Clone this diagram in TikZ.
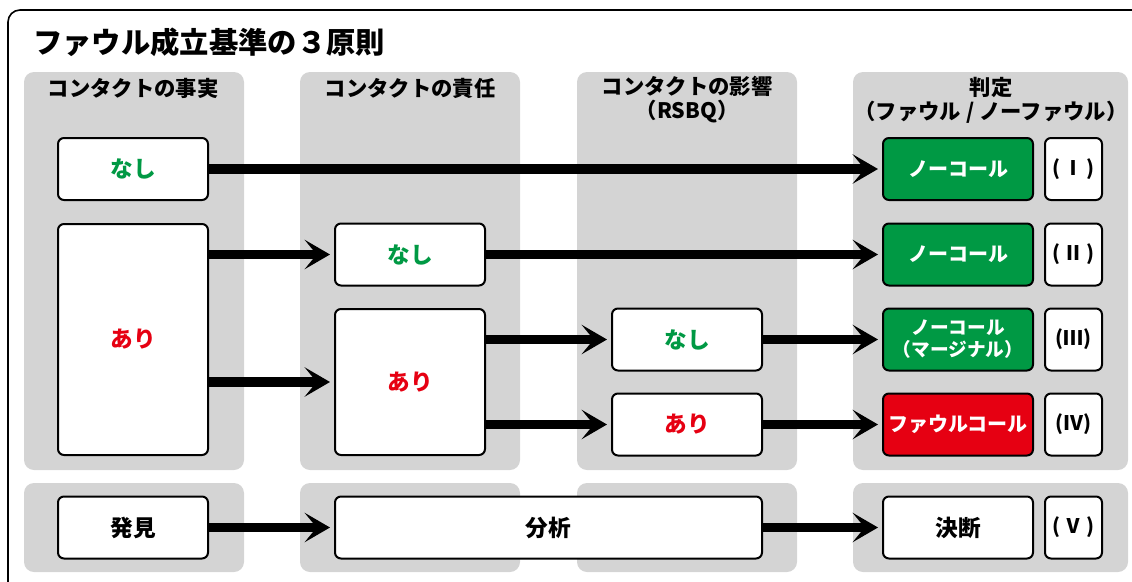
\documentclass[tikz,border=0pt]{standalone}
\usepackage{fontspec}
\setmainfont{Noto Sans CJK JP}
\usetikzlibrary{positioning,arrows.meta}
\definecolor{panelgray}{HTML}{D4D4D4}
\definecolor{callgreen}{HTML}{009944}
\definecolor{callred}{HTML}{E60012}

\begin{document}
\begin{tikzpicture}[
        x=0.75pt, y=-0.75pt,
        every node/.style={font=\bfseries},
        panel/.style={fill=panelgray, rounded corners=7.5pt},
        box/.style={rectangle, draw, line width=1.5pt, rounded corners=4.5pt, fill=white, minimum width=112.5pt, minimum height=46.5pt, inner sep=0pt, align=center, font=\bfseries\fontsize{17}{19}\selectfont},
        result/.style={box, text=white, font=\bfseries\fontsize{15}{16.5}\selectfont},
        numbox/.style={box, minimum width=42.75pt, font=\bfseries\fontsize{15}{16}\selectfont},
        header/.style={align=center, inner sep=0pt, font=\bfseries\fontsize{16}{18}\selectfont},
        line/.style={-{Stealth[length=19pt, width=22pt, inset=9pt]}, line width=7pt, shorten >=3pt}
    ]
        \useasboundingbox (0,0) rectangle (1132,582);

        % Frame and title
        \draw[line width=1.2pt, rounded corners=9pt] (8,10) rectangle (1150,600);
        \node[anchor=west, inner sep=0pt, font=\bfseries\fontsize{22}{24}\selectfont] (title) at (33,42) {ファウル成立基準の３原則};

        % Columns
        \foreach \xa/\xb in {24/244, 300/520, 577/797, 853/1128} {
            \fill[panel] (\xa,72) rectangle (\xb,470);
            \fill[panel] (\xa,483) rectangle (\xb,572);
        }
        \node[header] (hfact) at (133,88) {コンタクトの事実};
        \node[header] (hresp) at (410,88) {コンタクトの責任};
        \node[header] (himpact) at (687,100) {コンタクトの影響\\（RSBQ）};
        \node[header] (hjudge) at (991,100) {判定\\（ファウル / ノーファウル）};

        % Fact of contact
        \node[box, text=callgreen] (factno) at (133,169) {なし};
        \node[box, text=callred, minimum height=173.25pt] (factyes) at (133,339.5) {あり};

        % Responsibility
        \node[box, text=callgreen] (respno) at (410,254.5) {なし};
        \node[box, text=callred, minimum height=109.5pt] (respyes) at (410,382) {あり};

        % Impact (RSBQ)
        \node[box, text=callgreen] (impno) at (687,339.5) {なし};
        \node[box, text=callred] (impyes) at (687,424.5) {あり};

        % Judgement
        \node[result, fill=callgreen] (res1) at (958,169) {ノーコール};
        \node[result, fill=callgreen] (res2) at (958,254.5) {ノーコール};
        \node[result, fill=callgreen, font=\bfseries\fontsize{14}{16.5}\selectfont] (res3) at (958,339.5) {ノーコール\\（マージナル）};
        \node[result, fill=callred] (res4) at (958,424.5) {ファウルコール};
        \node[numbox, right=7.5pt of res1] (num1) {(\,Ⅰ\,)};
        \node[numbox, right=7.5pt of res2] (num2) {(\,Ⅱ\,)};
        \node[numbox, right=7.5pt of res3] (num3) {(Ⅲ)};
        \node[numbox, right=7.5pt of res4] (num4) {(Ⅳ)};

        % Process row
        \node[box] (spot) at (133,527.5) {発見};
        \node[box, minimum width=320.25pt] (analyze) at (548.5,527.5) {分析};
        \node[box] (decide) at (958,527.5) {決断};
        \node[numbox, right=7.5pt of decide] (num5) {(\,Ⅴ\,)};

        % Arrows
        \draw[line] (factno.east) -- (res1.west);
        \draw[line] (factyes.east |- respno.west) -- (respno.west);
        \draw[line] (factyes.east |- respyes.west) -- (respyes.west);
        \draw[line] (respno.east) -- (res2.west);
        \draw[line] (respyes.east |- impno.west) -- (impno.west);
        \draw[line] (respyes.east |- impyes.west) -- (impyes.west);
        \draw[line] (impno.east) -- (res3.west);
        \draw[line] (impyes.east) -- (res4.west);
        \draw[line] (spot.east) -- (analyze.west);
        \draw[line] (analyze.east) -- (decide.west);

    \end{tikzpicture}
\end{document}
